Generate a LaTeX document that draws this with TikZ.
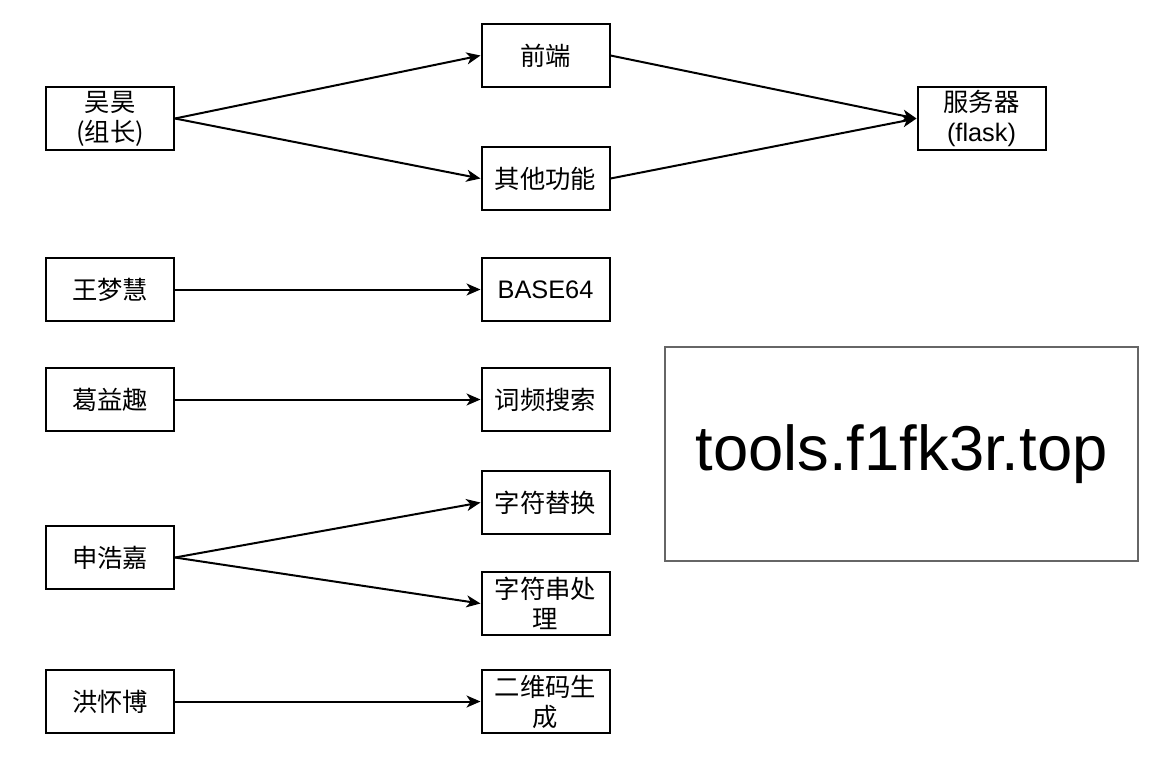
\documentclass[tikz,border=0pt]{standalone}
\usepackage{fontspec}
\setmainfont{Liberation Sans}
\newfontfamily\cjk{Noto Sans CJK SC}
\usetikzlibrary{arrows.meta}
\tikzset{
    membox/.style = {draw, line width=1.5pt, minimum width=96pt, minimum height=47.25pt, inner sep=0pt, align=center, font=\fontsize{19}{22.5}\selectfont},
    zhbox/.style = {membox, font=\cjk\fontsize{19}{22.5}\selectfont},
    sitebox/.style = {draw=black!60, line width=0.8pt, minimum width=354.75pt, minimum height=160.5pt, font=\fontsize{47.5}{56}\selectfont},
    link/.style = {line width=1.5pt, -{Stealth[length=10.5pt,width=9pt,inset=3pt]}}
}

\begin{document}
\begin{tikzpicture}[x=0.75pt, y=-0.75pt]
                \useasboundingbox (0,0) rectangle (1159,764);

                %% group leader
                \node[zhbox] (wuhao) at (110,118.5) {吴昊\\(组长)};
                \node[zhbox] (frontend) at (545.5,55.5) {前端};
                \node[zhbox] (other) at (545.5,178.5) {其他功能};
                \node[membox] (server) at (981.5,118.5) {{\cjk 服务器}\\(flask)};

                %% members
                \node[zhbox] (wangmh) at (110,289.5) {王梦慧};
                \node[zhbox] (geyq) at (110,399.5) {葛益趣};
                \node[zhbox] (shenhj) at (110,557.5) {申浩嘉};
                \node[zhbox] (hongfb) at (110,701.5) {洪怀博};

                %% tasks
                \node[membox] (base64) at (545.5,289.5) {BASE64};
                \node[zhbox] (wordfreq) at (545.5,399.5) {词频搜索};
                \node[zhbox] (replace) at (545.5,502.5) {字符替换};
                \node[zhbox] (strproc) at (545.5,603.5) {字符串处\\理};
                \node[zhbox] (qrcode) at (545.5,701.5) {二维码生\\成};

                \node[sitebox] (site) at (901.5,454) {tools.f1fk3r.top};

                %% arrows
                \draw[link] (wuhao.east) -- (frontend.west);
                \draw[link] (wuhao.east) -- (other.west);
                \draw[link] (frontend.east) -- (server.west);
                \draw[link] (other.east) -- (server.west);
                \draw[link] (wangmh) -- (base64);
                \draw[link] (geyq) -- (wordfreq);
                \draw[link] (shenhj.east) -- (replace.west);
                \draw[link] (shenhj.east) -- (strproc.west);
                \draw[link] (hongfb) -- (qrcode);

            \end{tikzpicture}
\end{document}
